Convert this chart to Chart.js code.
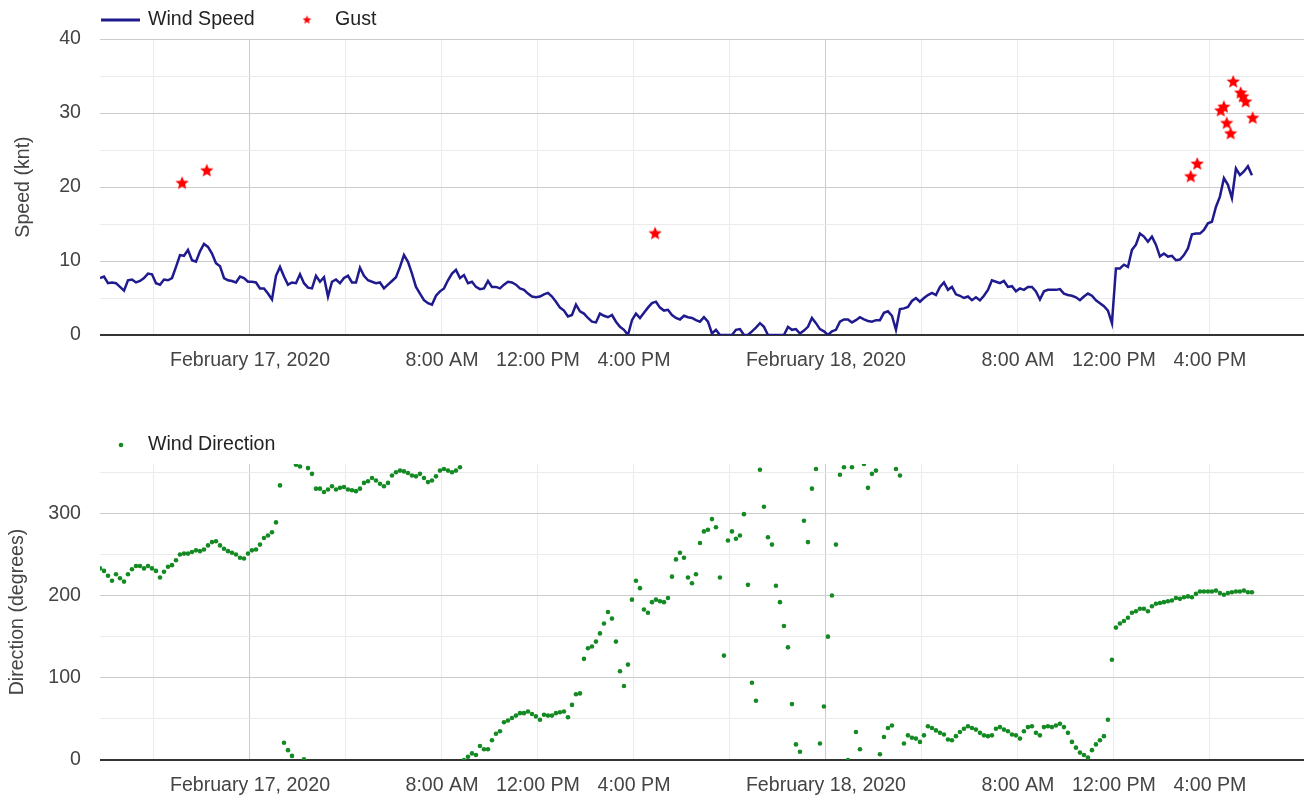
<!DOCTYPE html>
<html>
<head>
<meta charset="utf-8">
<title>Wind</title>
<script src="https://cdn.jsdelivr.net/npm/chart.js@4.4.1/dist/chart.umd.min.js"></script>
<style>
  body { margin: 0; background: #fff; }
  canvas { display: block; }
</style>
</head>
<body>
<canvas id="speedChart" width="1304" height="385"></canvas>
<canvas id="dirChart" width="1304" height="410"></canvas>
<script>
// readings every 10 minutes, hours counted from February 17, 2020 00:00
const startHour = -6.25;
const stepHours = 1 / 6;

const speedKnots = [
  7.7, 7.9, 7.0, 7.1, 7.0, 6.5, 6.0, 7.4, 7.5, 7.1, 7.3, 7.7, 8.3, 8.2, 7.0, 6.8, 7.5, 7.4, 7.7, 9.2,
  10.8, 10.7, 11.5, 10.1, 9.9, 11.3, 12.3, 11.9, 11.0, 9.7, 9.3, 7.7, 7.4, 7.3, 7.1, 7.9, 7.7, 7.2, 7.2, 7.1,
  6.3, 6.3, 5.6, 4.8, 8.0, 9.2, 7.9, 6.8, 7.1, 7.0, 8.2, 7.0, 6.4, 6.3, 8.0, 7.2, 7.8, 5.2, 7.2, 7.5,
  7.0, 7.7, 8.0, 7.1, 7.1, 9.1, 8.0, 7.4, 7.2, 7.0, 7.1, 6.3, 6.8,
  7.3, 7.8, 9.2, 10.8, 9.9, 8.3, 6.5, 5.6, 4.7, 4.3, 4.1, 5.3, 5.9, 6.3, 7.4, 8.3, 8.8, 7.7, 8.1, 7.0,
  7.2, 6.5, 6.2, 6.3, 7.3, 6.5, 6.5, 6.3, 6.8, 7.2, 7.1, 6.8, 6.3, 6.1, 5.6, 5.2, 5.1, 5.2, 5.5, 5.7,
  5.2, 4.5, 3.7, 3.3, 2.5, 2.7, 4.1, 3.2, 2.9, 2.3, 1.8, 1.7, 2.9, 2.6, 2.4, 2.7, 1.8, 1.1, 0.7, 0.0,
  2.0, 2.9, 2.3, 3.0, 3.7, 4.3, 4.5, 3.7, 3.3, 3.4, 2.7, 2.3, 2.1, 2.6, 2.4,
  2.3, 2.0, 1.8, 2.4, 1.8, 0.2, 0.7, 0, 0, 0, 0, 0.7, 0.8, 0, 0, 0.5, 1.0, 1.6, 1.1, 0,
  0, 0, 0, 0, 1.1, 0.7, 0.8, 0.2, 0.6, 1.1, 2.3, 1.6, 0.8, 0.5, 0, 0.5, 0.7, 1.8, 2.1, 2.1,
  1.7, 2.0, 2.4, 2.1, 1.9, 1.8, 2.0, 2.0, 3.0, 3.2, 2.6, 0.7, 3.5, 3.6, 3.8, 4.6, 5.0, 4.5, 5.0, 5.4,
  5.7, 5.4, 6.5, 7.1, 6.1, 6.5, 5.5, 5.3, 5.0, 5.2, 4.7, 5.1, 4.7, 5.3,
  6.1, 7.4, 7.2, 7.0, 7.3, 6.5, 6.6, 5.9, 6.3, 6.1, 6.5, 6.5, 5.9, 4.8, 5.9, 6.1, 6.1, 6.1, 6.2, 5.6,
  5.4, 5.3, 5.1, 4.7, 5.2, 5.6, 5.3, 4.7, 4.3, 3.9, 3.3, 1.6, 9.0, 9.0, 9.5, 9.2, 11.5, 12.2, 13.7, 13.3,
  12.6, 13.3, 12.2, 10.6, 11.0, 10.6, 10.7, 10.1, 10.2, 10.8, 11.7, 13.6, 13.7, 13.7, 14.2, 15.1, 15.3, 17.3, 18.7, 21.2,
  20.3, 18.5, 22.5, 21.6, 22.1, 22.8, 21.6
];

const directionDeg = [
  233, 230, 224, 218, 226, 221, 217, 226, 232, 236, 236, 233, 236, 233,
  230, 222, 229, 235, 237, 243, 250, 251, 251, 253, 255, 254, 256, 261, 265, 266, 261, 257, 254, 252, 250, 246, 245, 251,
  255, 256, 262, 270, 273, 277, 289, 334, 21, 12, 5, 359, 357, 1, 355, 348, 330, 330, 326, 329, 333, 329, 331, 332,
  329, 328, 327, 330, 337, 339, 343, 340, 336, 333, 337, 346, 350, 352, 351, 349, 346, 345, 348, 343, 338, 340, 345, 352,
  354, 352, 350, 352, 356, 0, 4, 8, 6, 17, 13, 13, 24, 32, 35, 46, 48, 51, 54, 57, 57, 59, 56, 53,
  49, 55, 54, 54, 57, 58, 59, 52, 67, 80, 81, 123, 136, 138, 144, 154, 166, 180, 172, 144, 108, 90, 116, 195,
  218, 209, 183, 179, 192, 195, 193, 192, 197, 223, 244, 252, 246, 222, 215, 226, 264, 278, 280, 293, 283, 222, 127, 267,
  278, 269, 273, 299, 213, 94, 72, 353, 308, 271, 262, 212, 192, 163, 137, 68, 19, 10, 291, 265, 330, 354, 20, 65,
  150, 200, 262, 347, 356, 0, 356, 34, 13, 360, 331, 348, 352, 7, 28, 39, 42, 354, 346, 20, 30, 27, 26, 22,
  30, 41, 39, 36, 33, 31, 25, 24, 29, 34, 38, 41, 39, 37, 33, 30, 29, 30, 38, 40, 37, 35, 31, 30,
  26, 35, 40, 41, 33, 30, 40, 41, 40, 42, 44, 40, 33, 22, 15, 9, 6, 3, 12, 19, 24, 29, 49, 122,
  161, 166, 169, 173, 179, 181, 184, 184, 181, 187, 190, 191, 192, 193, 194, 197, 196, 198, 199, 198, 202, 205, 205, 205,
  205, 206, 203, 201, 203, 204, 205, 205, 206, 204, 204
];

const gustHours = [-2.83, -1.8, 16.88, 39.2, 39.47, 40.45, 40.58, 40.7, 40.86, 40.97, 41.28, 41.37, 41.49, 41.78];
const gustKnots = [20.5, 22.2, 13.7, 21.4, 23.1, 30.3, 30.8, 28.6, 27.2, 34.2, 32.7, 32.2, 31.5, 29.3];

const gridHours = [-4, 0, 4, 8, 12, 16, 20, 24, 28, 32, 36, 40];
const tickHours = [0, 8, 12, 16, 24, 32, 36, 40];
const tickLabels = ['February 17, 2020', '8:00 AM', '12:00 PM', '4:00 PM',
                    'February 18, 2020', '8:00 AM', '12:00 PM', '4:00 PM'];

const FONT = "Arial, 'Liberation Sans', sans-serif";
const TEXT = '#444';
const speedColor = '#1f1a8e';
const gustColor = '#ff0000';
const dirColor = '#138a22';

function starCanvas(r, color) {
  const c = document.createElement('canvas');
  const s = Math.ceil(r * 2 + 2);
  c.width = s;
  c.height = s;
  const g = c.getContext('2d');
  g.fillStyle = color;
  g.beginPath();
  for (let k = 0; k < 10; k++) {
    const rad = k % 2 ? r * 0.45 : r;
    const a = -Math.PI / 2 + k * Math.PI / 5;
    g.lineTo(s / 2 + rad * Math.cos(a), s / 2 + rad * Math.sin(a));
  }
  g.closePath();
  g.fill();
  return c;
}

// simple legend row drawn on the canvas, google style
const legendRow = {
  id: 'legendRow',
  afterDraw(chart, args, opts) {
    const ctx = chart.ctx;
    ctx.save();
    ctx.font = '19.6px ' + FONT;
    ctx.textBaseline = 'middle';
    opts.items.forEach(item => {
      if (item.kind === 'line') {
        ctx.strokeStyle = item.color;
        ctx.lineWidth = 3;
        ctx.beginPath();
        ctx.moveTo(item.x, opts.y);
        ctx.lineTo(item.x + 39, opts.y);
        ctx.stroke();
      } else if (item.kind === 'star') {
        const st = starCanvas(4.5, item.color);
        ctx.drawImage(st, item.x - st.width / 2, opts.y - st.height / 2);
      } else {
        ctx.fillStyle = item.color;
        ctx.beginPath();
        ctx.arc(item.x, opts.y, 2.3, 0, Math.PI * 2);
        ctx.fill();
      }
      ctx.fillStyle = '#222';
      ctx.fillText(item.text, item.textX, opts.y);
    });
    ctx.restore();
  }
};

function xAxis(height) {
  return {
    type: 'linear',
    min: startHour,
    max: 43.92,
    afterBuildTicks: (scale) => { scale.ticks = gridHours.map(v => ({ value: v })); },
    afterFit: (scale) => { scale.height = height; },
    border: { display: false },
    grid: {
      drawTicks: false,
      color: (c) => (c.tick && c.tick.value % 24 === 0) ? '#cccccc' : '#ebebeb'
    },
    ticks: {
      autoSkip: false,
      maxRotation: 0,
      padding: 14,
      color: TEXT,
      font: { family: FONT, size: 19.6 },
      callback: (v) => {
        const k = tickHours.indexOf(v);
        return k < 0 ? '' : tickLabels[k];
      }
    }
  };
}

function yGrid(major) {
  return {
    drawTicks: false,
    color: (c) => {
      const v = c.tick ? c.tick.value : 1;
      if (v === 0) return '#333333';
      return v % major === 0 ? '#cccccc' : '#ebebeb';
    },
    lineWidth: (c) => (c.tick && c.tick.value === 0) ? 2 : 1
  };
}

const speedPoints = speedKnots.map((v, i) => ({ x: startHour + i * stepHours, y: v }));
const gustPoints = gustHours.map((h, i) => ({ x: h, y: gustKnots[i] }));
const dirPoints = directionDeg.map((v, i) => ({ x: startHour + i * stepHours, y: v }));

new Chart(document.getElementById('speedChart'), {
  type: 'line',
  data: {
    datasets: [{
      label: 'Wind Speed',
      data: speedPoints,
      borderColor: speedColor,
      borderWidth: 2.5,
      pointRadius: 0,
      tension: 0
    }, {
      label: 'Gust',
      data: gustPoints,
      showLine: false,
      pointStyle: starCanvas(7, gustColor),
      pointRadius: 7,
      borderColor: gustColor,
      backgroundColor: gustColor
    }]
  },
  options: {
    responsive: false,
    animation: false,
    layout: { autoPadding: false, padding: { top: 39, left: 0, right: 0, bottom: 0 } },
    plugins: {
      legend: { display: false },
      tooltip: { enabled: false },
      legendRow: {
        y: 20,
        items: [
          { kind: 'line', x: 101, color: speedColor, text: 'Wind Speed', textX: 148 },
          { kind: 'star', x: 307, color: gustColor, text: 'Gust', textX: 335 }
        ]
      }
    },
    scales: {
      x: xAxis(50),
      y: {
        min: 0,
        max: 40,
        afterFit: (scale) => { scale.width = 100; },
        border: { display: false },
        grid: yGrid(10),
        ticks: {
          stepSize: 5,
          autoSkip: false,
          padding: 19,
          color: TEXT,
          font: { family: FONT, size: 19.6 },
          callback: (v) => v % 10 === 0 ? String(v) : ''
        },
        title: {
          display: true,
          text: 'Speed (knt)',
          color: TEXT,
          font: { family: FONT, size: 19.6 },
          padding: { top: 12, bottom: 0 }
        }
      }
    }
  },
  plugins: [legendRow]
});

new Chart(document.getElementById('dirChart'), {
  type: 'line',
  data: {
    datasets: [{
      label: 'Wind Direction',
      data: dirPoints,
      showLine: false,
      pointRadius: 2.3,
      pointBorderWidth: 0,
      backgroundColor: dirColor,
      borderColor: dirColor
    }]
  },
  options: {
    responsive: false,
    animation: false,
    layout: { autoPadding: false, padding: { top: 79, left: 0, right: 0, bottom: 0 } },
    plugins: {
      legend: { display: false },
      tooltip: { enabled: false },
      legendRow: {
        y: 60,
        items: [
          { kind: 'dot', x: 121, color: dirColor, text: 'Wind Direction', textX: 148 }
        ]
      }
    },
    scales: {
      x: xAxis(35),
      y: {
        min: 0,
        max: 360,
        afterBuildTicks: (scale) => {
          scale.ticks = [0, 50, 100, 150, 200, 250, 300, 350].map(v => ({ value: v }));
        },
        afterFit: (scale) => { scale.width = 100; },
        border: { display: false },
        grid: yGrid(100),
        ticks: {
          autoSkip: false,
          padding: 19,
          color: TEXT,
          font: { family: FONT, size: 19.6 },
          callback: (v) => v % 100 === 0 ? String(v) : ''
        },
        title: {
          display: true,
          text: 'Direction (degrees)',
          color: TEXT,
          font: { family: FONT, size: 19.6 },
          padding: { top: 6, bottom: 0 }
        }
      }
    }
  },
  plugins: [legendRow]
});
</script>
</body>
</html>
